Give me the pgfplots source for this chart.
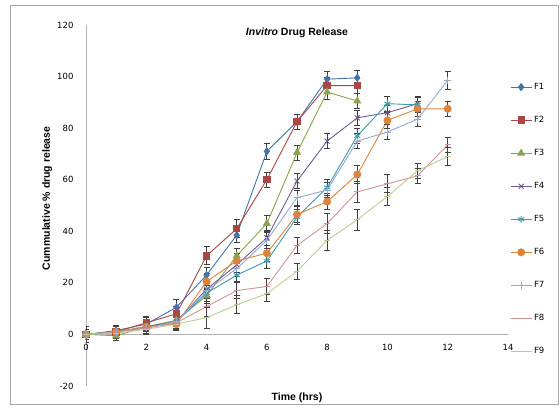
\documentclass[border=0pt]{standalone}
\usepackage{pgfplots}
\pgfplotsset{compat=1.18}
\usepackage{fontspec}
\setmainfont{Liberation Sans}
\newfontfamily\tickfont{DejaVu Sans}
\definecolor{c1}{HTML}{4572A7}
\definecolor{c2}{HTML}{AA4643}
\definecolor{c3}{HTML}{89A54E}
\definecolor{c4}{HTML}{71588F}
\definecolor{c5}{HTML}{4198AF}
\definecolor{c6}{HTML}{DB843D}
\definecolor{c7}{HTML}{93A9CF}
\definecolor{c8}{HTML}{D19392}
\definecolor{c9}{HTML}{B9CD96}
\begin{document}
\begin{tikzpicture}
\path[use as bounding box] (0,0) rectangle (560pt,-409pt);
\draw[gray!70, line width=0.8pt] (10pt,-5pt) rectangle (558.5pt,-404pt);
\begin{axis}[
  at={(86pt,-25pt)}, anchor=north west,
  scale only axis, width=422pt, height=361pt,
  xmin=0, xmax=14, ymin=-20, ymax=120,
  axis x line*=middle, axis y line*=left,
  hide obscured x ticks=false, hide obscured y ticks=false,
  axis line style={draw=gray!60, line width=0.8pt},
  xtick={0,2,...,14}, ytick={-20,0,...,120},
  major tick length=0pt,
  /pgf/number format/assume math mode=true,
  tick label style={font=\tickfont\fontsize{8.5}{10}\selectfont},
  yticklabel style={xshift=-9pt},
  xticklabel style={yshift=-6pt},
  title={\textit{Invitro} Drug Release},
  title style={font=\bfseries\fontsize{10.5}{12}\selectfont, at={(axis description cs:0.5,1)}, anchor=north, yshift=-5pt},
  xlabel={Time (hrs)},
  xlabel style={font=\bfseries\fontsize{10.5}{12}\selectfont, at={(axis description cs:0.5,0)}, anchor=north, yshift=-3pt},
  ylabel={Cummulative \% drug release},
  ylabel style={font=\bfseries\fontsize{10.5}{12}\selectfont, at={(axis description cs:-0.092,0.52)}, anchor=center},
  legend style={at={(axis description cs:1,1)}, anchor=north west, xshift=2pt, yshift=-56pt, draw=none, fill=none,
    font=\tickfont\fontsize{8.5}{10}\selectfont, row sep=21.3pt, inner sep=0pt},
  legend cell align=left,
  legend image code/.code={\draw[mark repeat=2,mark phase=2] plot coordinates {(0pt,0pt) (10.5pt,0pt) (21pt,0pt)};},
  every axis plot/.append style={line width=0.9pt},
  error bars/y dir=both, error bars/y explicit,
  error bars/error bar style={black!75, line width=0.8pt},
  error bars/error mark options={rotate=90, mark size=3pt, black!75, line width=0.8pt},
]
\addplot[c1, mark=diamond*, mark size=3.5pt, mark options={fill=c1}] table[x=t,y=v,y error=e] {
t v e
0 0 3
1 1.5 2
2 4 2.5
3 10.5 3
4 23 3
5 38.5 3
6 71 3
7 82.5 3
8 99 3
9 99.5 3
};
\addplot[c2, mark=square*, mark size=3.2pt, mark options={fill=c2}] table[x=t,y=v,y error=e] {
t v e
0 0 2
1 1 2
2 4.5 2.5
3 8 3
4 30.5 3.5
5 41 3.5
6 60 3
7 82.5 3
8 96.5 3
9 96.5 3
};
\addplot[c3, mark=triangle*, mark size=3.8pt, mark options={fill=c3}] table[x=t,y=v,y error=e] {
t v e
0 0 2
1 -0.5 2
2 3 2
3 5.5 2.5
4 15 3
5 30.5 3
6 43 3
7 70.5 3
8 94 3
9 90.5 3
};
\addplot[c4, mark=x, mark size=3.5pt] table[x=t,y=v,y error=e] {
t v e
0 0 2
1 1 2
2 3 2
3 5 2.5
4 17.5 3
5 27 3
6 37.5 3
7 59.5 3
8 75 3
9 84 3
10 86 3
11 89.5 3
};
\addplot[c5, mark=asterisk, mark size=3.5pt] table[x=t,y=v,y error=e] {
t v e
0 0 2
1 1 2
2 2.5 2
3 5 2.5
4 16 3
5 23 2.5
6 28.5 3
7 45.5 3
8 57 3
9 77 3
10 89.5 3
11 89 3
};
\addplot[c6, mark=*, mark size=3.5pt, mark options={fill=c6}] table[x=t,y=v,y error=e] {
t v e
0 0 2
1 1 2
2 3 2
3 4 2.5
4 20.5 3
5 28.5 3
6 31.5 3
7 46.5 3
8 51.5 3
9 62 3.5
10 83 3
11 87.5 3
12 87.5 3
};
\addplot[c7, mark=+, mark size=3.5pt] table[x=t,y=v,y error=e] {
t v e
0 0 2
1 1 2
2 2.5 2
3 5 2.5
4 17 3
5 25.5 3
6 36.5 3
7 53 3
8 56 3
9 75 3
10 78.5 3
11 83.5 3
12 98.5 3.5
};
\addplot[c8, mark=-, mark size=3pt] table[x=t,y=v,y error=e] {
t v e
0 0 2
1 1 2
2 2.5 2
3 4.5 2.5
4 10.8 4
5 17 3
6 18.6 3
7 34.5 3
8 43 4
9 55.3 4
10 58.4 3.5
11 61.5 3
12 73.5 3
};
\addplot[c9, mark=-, mark size=3pt] table[x=t,y=v,y error=e] {
t v e
0 0 2
1 0.5 2
2 2 2
3 4 2.5
4 6.5 4
5 11.5 3.5
6 15.8 3
7 24.5 3
8 36.5 4
9 44.5 4
10 53.5 3.5
11 63.5 3
12 69 3.5
};
\legend{F1,F2,F3,F4,F5,F6,F7,F8,F9}
\end{axis}
\end{tikzpicture}
\end{document}
